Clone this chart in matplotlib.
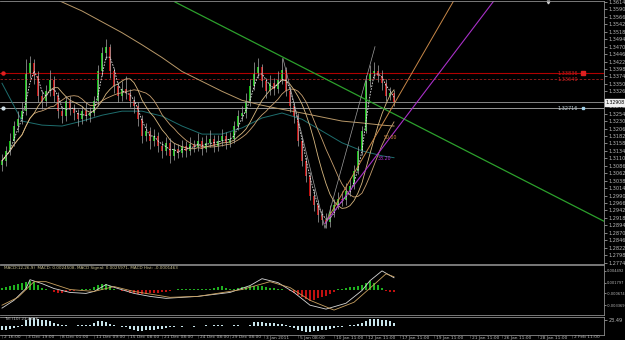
import numpy as np
import pandas as pd
import matplotlib
matplotlib.use("Agg")
import matplotlib.pyplot as plt

# ---------------- data ----------------
first_open = 1.3090
closes = [1.3102, 1.3134, 1.3166, 1.3214, 1.3236, 1.3262, 1.3384, 1.3416, 1.3374, 1.3310,
          1.3294, 1.3326, 1.3364, 1.3310, 1.3262, 1.3246, 1.3294, 1.3268, 1.3256, 1.3236,
          1.3262, 1.3246, 1.3256, 1.3294, 1.3390, 1.3448, 1.3470, 1.3390, 1.3342, 1.3310,
          1.3332, 1.3320, 1.3294, 1.3278, 1.3236, 1.3182, 1.3198, 1.3166, 1.3182, 1.3150,
          1.3134, 1.3160, 1.3118, 1.3140, 1.3128, 1.3150, 1.3134, 1.3156, 1.3147, 1.3166,
          1.3140, 1.3160, 1.3172, 1.3150, 1.3166, 1.3182, 1.3160, 1.3172, 1.3214, 1.3246,
          1.3256, 1.3294, 1.3342, 1.3384, 1.3406, 1.3358, 1.3326, 1.3352, 1.3332, 1.3364,
          1.3396, 1.3326, 1.3278, 1.3246, 1.3166, 1.3102, 1.3054, 1.2990, 1.2958, 1.2926,
          1.2910, 1.2904, 1.2936, 1.2958, 1.2980, 1.2974, 1.3006, 1.3022, 1.3070, 1.3134,
          1.3198, 1.3358, 1.3384, 1.3390, 1.3374, 1.3352, 1.3310, 1.3320, 1.3291]
highs = [1.3125, 1.3150, 1.3190, 1.3230, 1.3262, 1.3290, 1.3430, 1.3440, 1.3430, 1.3390,
         1.3330, 1.3345, 1.3395, 1.3375, 1.3325, 1.3280, 1.3310, 1.3310, 1.3285, 1.3270,
         1.3280, 1.3290, 1.3275, 1.3310, 1.3410, 1.3470, 1.3496, 1.3480, 1.3400, 1.3355,
         1.3360, 1.3375, 1.3335, 1.3310, 1.3290, 1.3250, 1.3225, 1.3210, 1.3205, 1.3195,
         1.3165, 1.3180, 1.3175, 1.3160, 1.3155, 1.3170, 1.3165, 1.3180, 1.3170, 1.3190,
         1.3180, 1.3185, 1.3200, 1.3185, 1.3185, 1.3205, 1.3195, 1.3195, 1.3230, 1.3265,
         1.3280, 1.3320, 1.3365, 1.3420, 1.3434, 1.3415, 1.3370, 1.3380, 1.3370, 1.3390,
         1.3432, 1.3405, 1.3340, 1.3290, 1.3255, 1.3180, 1.3115, 1.3065, 1.3010, 1.2975,
         1.2945, 1.2935, 1.2960, 1.2980, 1.3000, 1.3005, 1.3030, 1.3045, 1.3090, 1.3150,
         1.3215, 1.3380, 1.3410, 1.3420, 1.3410, 1.3395, 1.3365, 1.3340, 1.3330]
lows = [1.3070, 1.3085, 1.3120, 1.3150, 1.3196, 1.3220, 1.3250, 1.3370, 1.3350, 1.3290,
        1.3270, 1.3280, 1.3310, 1.3290, 1.3240, 1.3225, 1.3230, 1.3250, 1.3235, 1.3215,
        1.3220, 1.3230, 1.3228, 1.3245, 1.3280, 1.3375, 1.3430, 1.3370, 1.3320, 1.3290,
        1.3295, 1.3300, 1.3275, 1.3255, 1.3215, 1.3160, 1.3165, 1.3140, 1.3150, 1.3130,
        1.3110, 1.3120, 1.3095, 1.3105, 1.3110, 1.3115, 1.3115, 1.3120, 1.3130, 1.3135,
        1.3120, 1.3130, 1.3145, 1.3130, 1.3135, 1.3150, 1.3140, 1.3145, 1.3160, 1.3200,
        1.3230, 1.3240, 1.3280, 1.3330, 1.3370, 1.3340, 1.3305, 1.3315, 1.3315, 1.3320,
        1.3350, 1.3310, 1.3260, 1.3225, 1.3150, 1.3085, 1.3035, 1.2975, 1.2940, 1.2905,
        1.2895, 1.2884, 1.2890, 1.2920, 1.2945, 1.2955, 1.2960, 1.2990, 1.3010, 1.3060,
        1.3120, 1.3190, 1.3340, 1.3365, 1.3355, 1.3330, 1.3295, 1.3298, 1.3280]

# long moving averages (candle index, price)
ma_long_idx = [0, 5, 10, 15, 20, 25, 30, 35, 40, 45, 50, 55, 60, 65, 70, 75, 80, 85, 90, 95, 98]
ma_long_val = [1.3710, 1.3678, 1.3646, 1.3614, 1.3585, 1.3550, 1.3515, 1.3476, 1.3435, 1.3390,
               1.3358, 1.3326, 1.3297, 1.3281, 1.3268, 1.3256, 1.3243, 1.3230, 1.3224, 1.3217, 1.3214]
ma_teal_idx = [0, 5, 10, 15, 20, 25, 30, 35, 40, 45, 50, 55, 60, 65, 70, 75, 80, 85, 90, 95, 98]
ma_teal_val = [1.3352, 1.3230, 1.3217, 1.3214, 1.3230, 1.3249, 1.3262, 1.3262, 1.3246, 1.3214,
               1.3188, 1.3188, 1.3208, 1.3240, 1.3256, 1.3236, 1.3198, 1.3160, 1.3134, 1.3118, 1.3112]

# drawn objects (candle index, price)
trend_green = [(43.25, 1.3614), (150.5, 1.2907)]
fib_orange = [(80.75, 1.2900), (112.75, 1.3614)]
fib_purple = [(80.75, 1.2900), (122.75, 1.3614)]
zigzag = [(70.25, 1.3432), (80.75, 1.2884), (93.25, 1.3470)]
fib_labels = [("50.00", 95.5, 1.3176, "#d08a40"), ("38.20", 94.0, 1.3108, "#b030d0")]

red_solid = 1.33836
red_dash = 1.33644
bid_price = 1.32908
gray_level = 1.32716

price_ticks = [round(1.3614 - 0.0024 * k, 4) for k in range(36)]

# MACD
macd_hist = [0.00068, 0.00090, 0.00113, 0.00135, 0.00158, 0.00180, 0.00203, 0.00225, 0.00203, 0.00135,
             0.00068, 0.00023, 0.00011, -0.00045, -0.00068, -0.00068, -0.00045, -0.00023, -0.00023, 0.00000,
             0.00023, 0.00023, 0.00045, 0.00090, 0.00135, 0.00158, 0.00158, 0.00113, 0.00045, 0.00011,
             -0.00023, -0.00023, -0.00068, -0.00068, -0.00090, -0.00090, -0.00079, -0.00068, -0.00068, -0.00056,
             -0.00045, -0.00034, -0.00011, 0.00011, 0.00023, 0.00023, 0.00023, 0.00023, 0.00023, 0.00034,
             0.00034, 0.00034, 0.00045, 0.00068, 0.00090, 0.00113, 0.00068, 0.00023, 0.00045, 0.00068,
             0.00079, 0.00090, 0.00101, 0.00113, 0.00113, 0.00113, 0.00090, 0.00068, 0.00056, 0.00045,
             0.00034, 0.00011, -0.00023, -0.00068, -0.00113, -0.00158, -0.00203, -0.00248, -0.00225, -0.00180,
             -0.00158, -0.00135, -0.00090, -0.00045, 0.00023, 0.00045, 0.00068, 0.00079, 0.00090, 0.00113,
             0.00135, 0.00180, 0.00225, 0.00180, 0.00135, 0.00068, -0.00023, -0.00045, -0.00045]
macd_idx = [0, 3, 6, 7, 10, 13, 17, 21, 23, 26, 29, 33, 37, 41, 49, 57, 62, 65, 69, 73, 77, 81, 86, 90, 92, 95, 98]
macd_val = [-0.00404, -0.00225, 0.00045, 0.00247, 0.00157, 0.00045, -0.00045, -0.00067, -0.00022, 0.00135,
            0.00045, -0.00067, -0.00135, -0.00180, -0.00135, -0.00045, 0.00112, 0.00270, 0.00180, -0.00045,
            -0.00337, -0.00427, -0.00292, 0.00000, 0.00225, 0.00449, 0.00292]
sig_idx = [0, 4, 8, 11, 17, 23, 28, 33, 42, 49, 60, 67, 72, 77, 83, 88, 93, 96, 98]
sig_val = [-0.00337, -0.00157, 0.00202, 0.00202, 0.00022, -0.00022, 0.00090, -0.00022, -0.00157, -0.00135,
           0.00022, 0.00202, 0.00067, -0.00225, -0.00449, -0.00270, 0.00135, 0.00382, 0.00314]
macd_ticks = [0.0044920, 0.0017968, -0.0006738, -0.0033690]

# TVI
tvi = [-16, -16, -12, -8, -4, 4, 24, 32, 32, 28, 24, 24, 20, 12, 8, 4, 4, 2, 2, 4,
       4, 4, 4, 12, 20, 20, 16, 8, 4, 2, -4, -4, -12, -16, -20, -20, -16, -16, -16, -12,
       -12, -8, -4, -2, 2, -2, 2, 2, -2, 2, 2, 4, 2, 4, 6, 4, 2, 2, 4, 4,
       2, 2, 4, 16, 16, 16, 14, 12, 12, 10, 8, 4, -4, -8, -16, -20, -24, -24, -20, -20,
       -16, -16, -12, -8, -4, -2, 2, 4, 4, 8, 12, 20, 28, 28, 28, 24, 24, 20, 12]

xtick_idx = [0, 6, 14.5, 23, 31.5, 40, 49, 57, 65.5, 74, 83, 91, 99.5, 108, 117, 125, 134, 142.5]
xtick_lab = ["2 16:00", "3 Dec 19:00", "8 Dec 01:00", "11 Dec 09:00", "15 Dec 08:00", "21 Dec 08:00",
             "24 Dec 08:00", "29 Dec 08:00", "3 Jan 2011", "5 Jan 08:00", "10 Jan 11:00", "12 Jan 11:00",
             "17 Jan 11:00", "19 Jan 11:00", "21 Jan 11:00", "26 Jan 11:00", "28 Jan 11:00", "2 Feb 11:00"]

# ---------------- plotting ----------------
BG = "black"
AX = "#8c8c8c"
TXT = "#b8b8b8"
W, H = 625, 340
fig = plt.figure(figsize=(W / 100, H / 100), dpi=100, facecolor=BG)

def fr(x0, y0, x1, y1):
    return [x0 / W, 1 - y1 / H, (x1 - x0) / W, (y1 - y0) / H]

ax = fig.add_axes(fr(0, 1, 604, 264))
axm = fig.add_axes(fr(0, 265, 604, 315))
axt = fig.add_axes(fr(0, 317, 604, 335))
XL = (-0.5, 150.5)
for a in (ax, axm, axt):
    a.set_facecolor(BG)
    a.set_xlim(*XL)
    for s in a.spines.values():
        s.set_color(AX)
        s.set_linewidth(0.6)
    a.spines['left'].set_visible(False)
    a.yaxis.tick_right()
    a.tick_params(axis='y', colors=TXT, labelsize=3.6, length=2, width=0.5, pad=1.5)
    a.tick_params(axis='x', length=0)
    a.set_xticks([])

idx = np.arange(len(closes))
opens = [first_open] + closes[:-1]
c = np.array(closes); o = np.array(opens); h = np.array(highs); l = np.array(lows)

ax.set_ylim(1.3614 - 0.00032 * 264, 1.3614 + 0.00032 * 1)
ax.set_yticks(price_ticks)
# the bid box covers the tick label lying under it
ax.set_yticklabels(["" if abs(v - bid_price) < 0.0012 else f"{v:.4f}" for v in price_ticks])

# horizontal levels
ax.axhline(red_solid, color="#b00000", lw=0.8)
ax.axhline(red_dash, color="#a02020", lw=0.6, ls=(0, (3, 2)))
ax.axhline(bid_price, color="#9a9a9a", lw=0.6)
ax.axhline(gray_level, color="#b0b0b0", lw=0.6)
ax.text(144, red_solid, "1.33836", color="#d02020", fontsize=3.6, ha='right', va='center')
ax.text(144, red_dash, "1.33640", color="#d02020", fontsize=3.6, ha='right', va='center')
ax.text(144, gray_level, "1.32716", color="#c0d0d8", fontsize=3.6, ha='right', va='center')
ax.plot([145.3], [red_solid], marker='s', ms=2.2, color="#e02020")
ax.plot([145.3], [gray_level], marker='s', ms=2.0, color="#a0d0e8")
ax.plot([0.2], [red_solid], marker='o', ms=2.2, color="#e02020", clip_on=False)
ax.plot([0.2], [gray_level], marker='o', ms=2.0, color="#d0e0e8", clip_on=False)
ax.text(150.9, bid_price, "1.32908", color="black", fontsize=3.3, ha='left', va='center', zorder=10,
        bbox=dict(boxstyle="square,pad=0.2", fc="#f0f0f0", ec="#f0f0f0"), clip_on=False)

# moving averages
cs = pd.Series(closes)
ax.plot(ma_long_idx, ma_long_val, color="#b89868", lw=0.7)
ax.plot(ma_teal_idx, ma_teal_val, color="#1e6e6e", lw=0.7)
ax.plot(idx, cs.rolling(14, min_periods=1).mean(), color="#c8a070", lw=0.6)
ax.plot(idx, cs.rolling(9, min_periods=1).mean(), color="#d8b880", lw=0.6)

# candles
up = c >= o
ax.vlines(idx, l, h, color="#a8a8a8", lw=0.5)
ax.bar(idx[up], (c - o)[up], bottom=o[up], width=0.6, color="#18c018", edgecolor="none")
ax.bar(idx[~up], (o - c)[~up], bottom=c[~up], width=0.6, color="#c01010", edgecolor="none")

ax.plot(idx, cs.rolling(3, min_periods=1).mean(), color="#e8e8e8", lw=0.6, ls=(0, (2, 1.5)))

# drawn objects
ax.plot(*zip(*trend_green), color="#2ca02c", lw=0.9)
for ray, col, lw in ((fib_orange, "#c88848", 0.7), (fib_purple, "#a830c8", 0.8)):
    (x0, y0), (x1, y1) = ray
    ax.plot([x0, x0 + 2 * (x1 - x0)], [y0, y0 + 2 * (y1 - y0)], color=col, lw=lw)
ax.plot(*zip(*zigzag), color="#a0a0a0", lw=0.5)
for txt, xi, yv, col in fib_labels:
    ax.text(xi, yv, txt, color=col, fontsize=3.4, ha='left', va='center')
ax.plot([136.5], [1.3614], marker='v', ms=2, color="#d0d0d0", clip_on=False)

# MACD panel
axm.set_ylim(-0.00562, 0.00584)
hcol = ["#20b020" if v >= 0 else "#c01010" for v in macd_hist]
axm.bar(idx, macd_hist, width=0.55, color=hcol, edgecolor="none")
axm.plot(macd_idx, macd_val, color="#d8d8d8", lw=0.6)
axm.plot(sig_idx, sig_val, color="#c8a060", lw=0.6)
axm.set_yticks(macd_ticks)
axm.set_yticklabels([f"{v:.6f}" for v in macd_ticks])
axm.tick_params(axis='y', labelsize=2.6, pad=0.6, length=1.5)
axm.text(0.6, 0.0052, "MACD(12,26,9)  MACD: 0.0024508, MACD Signal: 0.0025971, MACD Hist: -0.0001463",
         color="#c8c090", fontsize=3.0, ha='left', va='center')

# TVI panel
axt.set_ylim(-36, 36)
axt.bar(idx, tvi, width=0.55, color="#c8e4ea", edgecolor="none")
axt.set_yticks([23.49])
axt.set_yticklabels(["23.49"])
axt.text(0.6, 28, "TVI (10) 23.4856", color="#c0c0c0", fontsize=3.0, ha='left', va='center')

# x labels
for xi, lab in zip(xtick_idx, xtick_lab):
    axt.text(xi, -36, "|", color=AX, fontsize=3, ha='center', va='top', clip_on=False)
    axt.text(xi + 0.4, -38, lab, color=TXT, fontsize=3.2, ha='left', va='top', clip_on=False)

fig.savefig("out.png", dpi=100, facecolor=BG)
